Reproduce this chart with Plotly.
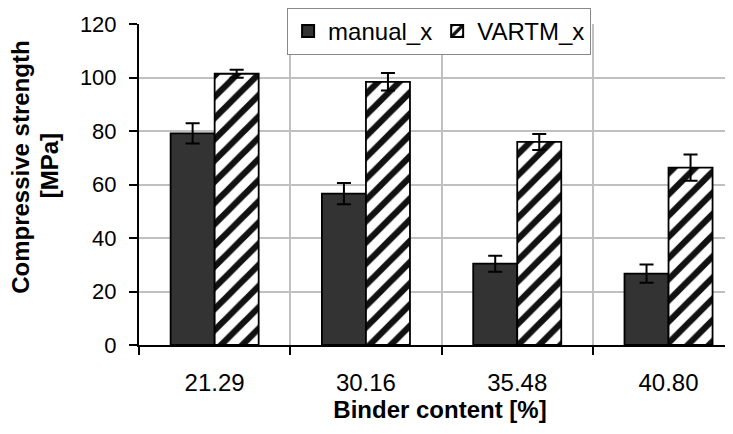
import plotly.graph_objects as go

categories = ["21.29", "30.16", "35.48", "40.80"]
manual_x = [79.1, 56.6, 30.4, 26.7]
manual_err = [3.8, 4.0, 3.0, 3.4]
vartm_x = [101.4, 98.4, 75.9, 66.3]
vartm_err = [1.5, 3.3, 3.0, 4.9]
y_ticks = [0, 20, 40, 60, 80, 100, 120]
y_title_lines = ["Compressive strength", "[MPa]"]

FONT = "Liberation Sans, Arial, sans-serif"

fig = go.Figure()
fig.add_trace(go.Bar(
    name="manual_x", x=categories, y=manual_x,
    marker=dict(color="#333333", line=dict(color="black", width=1.8)),
    error_y=dict(type="data", array=manual_err, visible=True,
                 color="black", thickness=2, width=7),
))
fig.add_trace(go.Bar(
    name="VARTM_x", x=categories, y=vartm_x,
    marker=dict(color="white", line=dict(color="black", width=1.8),
                pattern=dict(shape="/", fgcolor="#111111", bgcolor="white",
                             fgopacity=1, size=15, solidity=0.42, fillmode="replace")),
    error_y=dict(type="data", array=vartm_err, visible=True,
                 color="black", thickness=2, width=7),
))

# y-axis title as two rotated lines (positions in paper coords)
for txt, xp, yp in zip(y_title_lines, [-0.198, -0.149], [0.5545, 0.5576]):
    fig.add_annotation(text=f"<b>{txt}</b>", xref="paper", yref="paper", x=xp, y=yp,
                       xanchor="center", yanchor="middle", textangle=-90, showarrow=False,
                       font=dict(size=24, family=FONT, color="black"))

fig.update_layout(
    width=733, height=434,
    margin=dict(l=131, r=0, t=16, b=97, autoexpand=False),
    paper_bgcolor="white", plot_bgcolor="white",
    barmode="group", bargap=0.418, bargroupgap=0,
    font=dict(family=FONT, color="black"),
    showlegend=True,
    legend=dict(orientation="h", x=0.246, xanchor="left", y=1.05, yanchor="top",
                bgcolor="white", bordercolor="#888888", borderwidth=1,
                font=dict(size=24, family=FONT, color="black"),
                itemsizing="constant"),
    xaxis=dict(
        type="category", range=[-0.5, 3.479], automargin=False,
        tickson="boundaries", ticks="outside", ticklen=8, tickwidth=2, tickcolor="black",
        showgrid=True, gridcolor="#c0c0c0", gridwidth=1.5,
        showline=True, linecolor="black", linewidth=2,
        tickfont=dict(size=24, family=FONT), ticklabelstandoff=15,
        title=dict(text="<b>Binder content [%]</b>", font=dict(size=24, family=FONT), standoff=5),
    ),
    yaxis=dict(
        range=[0, 120], tickvals=y_ticks, automargin=False,
        ticks="outside", ticklen=8, tickwidth=2, tickcolor="black",
        showgrid=True, gridcolor="#c0c0c0", gridwidth=1.5,
        showline=True, linecolor="black", linewidth=2, zeroline=False,
        tickfont=dict(size=22, family=FONT), ticklabelstandoff=8,
    ),
)

fig.write_html("out.html")
